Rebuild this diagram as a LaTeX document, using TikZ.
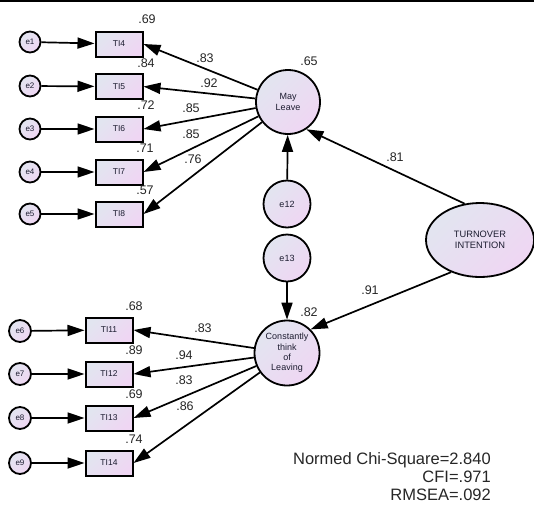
\documentclass[tikz,border=0pt]{standalone}
\usepackage{fontspec}
\setmainfont{Liberation Sans}
\usetikzlibrary{arrows.meta, shapes.geometric}

\definecolor{shadetop}{RGB}{226,229,240}
\definecolor{shadebot}{RGB}{239,214,243}
\definecolor{labtext}{RGB}{38,38,38}
\definecolor{nodetext}{RGB}{28,28,48}

\begin{document}
\begin{tikzpicture}[
        x=1pt, y=-1pt,
        >={Triangle[length=17pt, width=11pt]},
        shadefill/.style={
            top color=shadetop,
            bottom color=shadebot,
            shading angle=45
        },
        item/.style={
            rectangle,
            draw,
            line width=2pt,
            shadefill,
            minimum width=47pt,
            minimum height=25pt,
            inner sep=0pt,
            text=nodetext,
            font=\fontsize{8.5}{9}\selectfont
        },
        err/.style={
            circle,
            draw,
            line width=1.8pt,
            shadefill,
            minimum size=21pt,
            inner sep=0pt,
            text=nodetext,
            font=\fontsize{8}{9}\selectfont
        },
        latent/.style={
            circle,
            draw,
            line width=1.8pt,
            shadefill,
            minimum size=64pt,
            inner sep=0pt,
            align=center,
            text=nodetext,
            font=\fontsize{9}{10.3}\selectfont
        },
        coef/.style={
            inner sep=0pt,
            text=labtext,
            font=\fontsize{12.5}{14}\selectfont
        },
        link/.style={->, line width=1.7pt}
    ]

    \useasboundingbox (0,0) rectangle (534,506);
    \draw[line width=1.5pt] (0,0.75) -- (534,0.75);

    % Nodes: May Leave block
    \node[item] (ti4) at (119,44) {TI4};
    \node[item] (ti5) at (119,86.5) {TI5};
    \node[item] (ti6) at (119,129) {TI6};
    \node[item] (ti7) at (119,172) {TI7};
    \node[item] (ti8) at (119,214) {TI8};

    \node[err] (e1) at (30,42) {e1};
    \node[err] (e2) at (30,86) {e2};
    \node[err] (e3) at (30,129) {e3};
    \node[err] (e4) at (30,172) {e4};
    \node[err] (e5) at (30,214) {e5};

    \node[latent] (ml) at (288,102) {May\\Leave};
    \node[err, minimum size=47pt, font=\fontsize{9}{10}\selectfont] (e12) at (287,204) {e12};

    % Nodes: Constantly think of Leaving block
    \node[item] (ti11) at (109,330) {TI11};
    \node[item] (ti12) at (109,374) {TI12};
    \node[item] (ti13) at (109,418) {TI13};
    \node[item] (ti14) at (109,463) {TI14};

    \node[err, minimum size=22pt] (e6) at (20,331) {e6};
    \node[err, minimum size=22pt] (e7) at (20,374) {e7};
    \node[err, minimum size=22pt] (e8) at (20,418) {e8};
    \node[err, minimum size=22pt] (e9) at (20,463) {e9};

    \node[latent, minimum size=65pt] (ctl) at (287,353) {Constantly\\think\\of\\Leaving};
    \node[err, minimum size=47pt, font=\fontsize{9}{10}\selectfont] (e13) at (287,258) {e13};

    % Node: second order factor
    \node[ellipse, draw, line width=1.8pt, shadefill, minimum width=108pt, minimum height=74pt,
        inner sep=0pt, align=center, text=nodetext, font=\fontsize{9.3}{11}\selectfont]
        (tiv) at (480,240) {TURNOVER\\INTENTION};

    % Arrows
    \draw[link] (e1) -- (ti4);
    \draw[link] (e2) -- (ti5);
    \draw[link] (e3) -- (ti6);
    \draw[link] (e4) -- (ti7);
    \draw[link] (e5) -- (ti8);
    \draw[link] (ml) -- (ti4.east);
    \draw[link] (ml) -- (ti5.east);
    \draw[link] (ml) -- (ti6.east);
    \draw[link] (ml) -- (ti7.east);
    \draw[link] (ml) -- (ti8.east);
    \draw[link] (e12) -- (ml);

    \draw[link] (e6) -- (ti11);
    \draw[link] (e7) -- (ti12);
    \draw[link] (e8) -- (ti13);
    \draw[link] (e9) -- (ti14);
    \draw[link] (ctl) -- (ti11.east);
    \draw[link] (ctl) -- (ti12.east);
    \draw[link] (ctl) -- (ti13.east);
    \draw[link] (ctl) -- (ti14.east);
    \draw[link] (e13) -- (ctl);

    \draw[link] (tiv.113) -- (ml.304);
    \draw[link] (tiv.228) -- (ctl.45);

    % Squared multiple correlations
    \node[coef] (r4) at (147,19) {.69};
    \node[coef] (r5) at (146,63) {.84};
    \node[coef] (r6) at (146,105) {.72};
    \node[coef] (r7) at (145,148) {.71};
    \node[coef] (r8) at (145,190) {.57};
    \node[coef] (rml) at (309,61) {.65};
    \node[coef] (r11) at (134,306) {.68};
    \node[coef] (r12) at (134,350) {.89};
    \node[coef] (r13) at (134,394) {.69};
    \node[coef] (r14) at (134,439) {.74};
    \node[coef] (rctl) at (309,312) {.82};

    % Loadings
    \node[coef] (l4) at (205,58) {.83};
    \node[coef] (l5) at (209,83) {.92};
    \node[coef] (l6) at (191,108) {.85};
    \node[coef] (l7) at (191,134) {.85};
    \node[coef] (l8) at (193,159) {.76};
    \node[coef] (l11) at (203,328) {.83};
    \node[coef] (l12) at (184,355) {.94};
    \node[coef] (l13) at (184,380) {.83};
    \node[coef] (l14) at (185,406) {.86};
    \node[coef] (lml) at (395,157) {.81};
    \node[coef] (lctl) at (370,290) {.91};

    % Fit indices
    \node[anchor=east, align=right, inner sep=0pt, text=labtext, font=\fontsize{16.5}{18}\selectfont]
        (fit) at (491,477) {Normed Chi-Square=2.840\\CFI=.971\\RMSEA=.092};

\end{tikzpicture}
\end{document}
